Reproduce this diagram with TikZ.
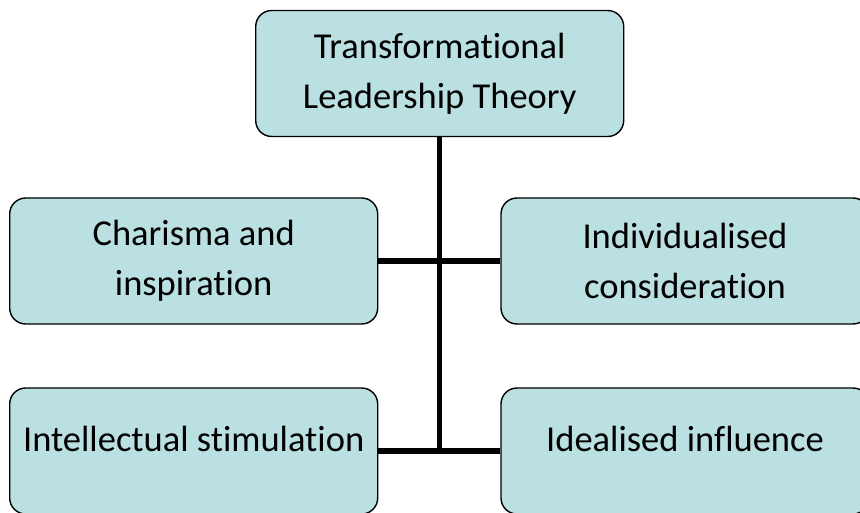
\documentclass[tikz,border=0pt]{standalone}
\usepackage{fontspec}
\setmainfont{Carlito}[Ligatures={NoCommon,NoContextual}]
\usepackage{tikz}

\definecolor{boxfill}{RGB}{186,224,226}

\begin{document}
\begin{tikzpicture}[x=1pt,y=-1pt,
		box/.style={draw,fill=boxfill,line width=1.4pt,rounded corners=16pt,minimum width=368pt,minimum height=126pt,inner sep=0pt,font=\fontsize{36.5}{50}\selectfont},
		leaf/.style={box,align=center},
		single/.style={box,text height=0pt,text depth=0pt},
		conn/.style={line width=5.5pt}]
	\clip (0,0) rectangle (860,513);
	\fill[white] (0,0) rectangle (860,513);
	\node[leaf] (theory) at (439.7,73.5) {Transformational\\Leadership Theory};
	\node[leaf] (charisma) at (193.7,261) {Charisma and\\inspiration};
	\node[leaf] (indiv) at (685,261) {Individualised\\consideration};
	\node[single] (intel) at (193.7,451) {Intellectual stimulation};
	\node[single] (ideal) at (685,451) {Idealised influence};
	\draw[conn] (theory.south) -- (theory.south |- intel.east);
	\draw[conn] (charisma.east) -- (indiv.west);
	\draw[conn] (intel.east) -- (ideal.west);
\end{tikzpicture}
\end{document}
